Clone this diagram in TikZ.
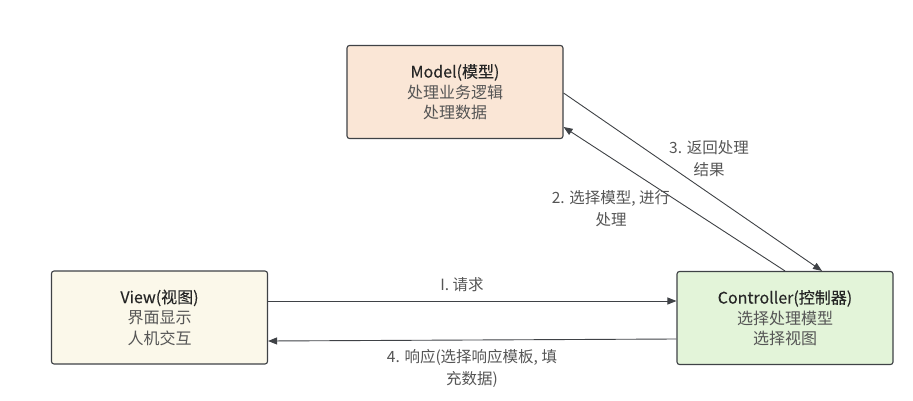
\documentclass[tikz,border=0pt]{standalone}
\usepackage{fontspec}
\setmainfont{Noto Sans CJK SC}
\newfontfamily\titlefont{Noto Sans CJK SC}[FakeBold=0.3]
\usetikzlibrary{arrows.meta}
\definecolor{modelfill}{HTML}{FAE6D6}
\definecolor{viewfill}{HTML}{FBF8EA}
\definecolor{ctrlfill}{HTML}{E3F4D9}
\definecolor{edge}{HTML}{3F4246}
\definecolor{txtdark}{HTML}{262626}
\definecolor{txtgray}{HTML}{555555}
\tikzset{
  box/.style={draw=edge, line width=1.1pt, rounded corners=2.5pt, minimum width=216pt, minimum height=93pt, inner sep=0pt},
  boxtext/.style={align=center, font=\fontsize{16pt}{20.5pt}\selectfont, text=txtgray},
  arr/.style={draw=edge, line width=0.9pt, -{Triangle[length=9pt,width=7pt]}},
  lbl/.style={align=center, font=\fontsize{15.5pt}{22pt}\selectfont, text=txtgray, inner sep=0pt}
}
\begin{document}
\begin{tikzpicture}[x=1pt,y=-1pt]
\useasboundingbox (0,0) rectangle (913,401);
\node[box, fill=modelfill] (model) at (455,92) {};
\node[box, fill=viewfill] (view) at (159.5,317.5) {};
\node[box, fill=ctrlfill] (ctrl) at (785,318) {};
\node[boxtext] (modelt) at (model) {{\titlefont\color{txtdark}Model(模型)}\\处理业务逻辑\\处理数据};
\node[boxtext] (viewt) at (view) {{\titlefont\color{txtdark}View(视图)}\\界面显示\\人机交互};
\node[boxtext] (ctrlt) at (ctrl) {{\titlefont\color{txtdark}Controller(控制器)}\\选择处理模型\\选择视图};
% connectors
\draw[arr] ([yshift=16.5pt]view.east) -- ([yshift=17pt]ctrl.west);
\draw[arr] ([yshift=-21pt]ctrl.west) -- ([yshift=-23.5pt]view.east);
\draw[arr] ([yshift=-1pt]model.east) -- ([xshift=37pt]ctrl.north);
\draw[arr] (ctrl.north) -- ([yshift=-35pt]model.east);
% labels
\node[lbl] (l1) at (462,285) {I. 请求};
\node[lbl] (l4) at (472,368) {4. 响应(选择响应模板, 填\\充数据)};
\node[lbl] (l3) at (709,159) {3. 返回处理\\结果};
\node[lbl] (l2) at (611,209) {2. 选择模型, 进行\\处理};
\end{tikzpicture}
\end{document}
